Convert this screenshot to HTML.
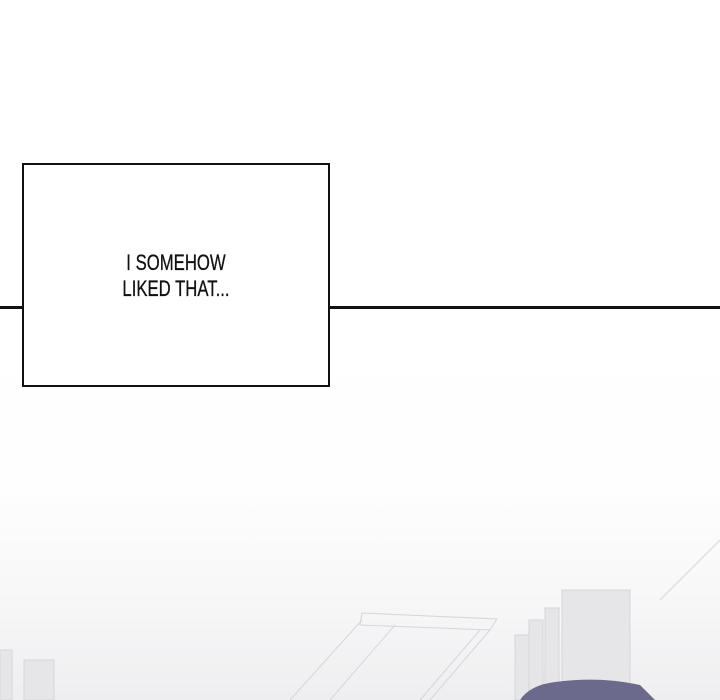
<!DOCTYPE html>
<html><head><style>
html,body{margin:0;padding:0;width:720px;height:700px;overflow:hidden;background:#fff;position:relative}
.grad{position:absolute;left:0;top:308px;width:720px;height:392px;background:linear-gradient(#fff 0%,#fefefe 45%,#f7f7f8 75%,#eeeef0 100%)}
.line{position:absolute;left:0;top:306px;width:720px;height:3px;background:#111}
.box{position:absolute;left:22px;top:163px;width:304px;height:220px;border:2px solid #111;background:#fff}
.txt{position:absolute;left:22px;width:308px;top:250px;text-align:center;font-family:"Liberation Sans",sans-serif;font-size:22px;line-height:26px;color:#111;transform:scaleX(0.76);transform-origin:154px 0;-webkit-text-stroke:0.3px #111}
</style></head><body>
<div class="grad"></div>
<svg style="position:absolute;left:0;top:0" width="720" height="700">
<g stroke="#d6d6da" fill="none" stroke-width="1">
<polygon points="362,613 497,619 490,630 360,625"/>
<line x1="362" y1="620" x2="290" y2="700"/><line x1="395" y1="625" x2="330" y2="700"/>
<line x1="480" y1="630" x2="420" y2="700"/><line x1="490" y1="630" x2="430" y2="700"/>
<line x1="720" y1="540" x2="660" y2="600"/>
</g>
<g fill="#e6e6e9" stroke="#d6d6da">
<rect x="515" y="635" width="14" height="65"/><rect x="529" y="620" width="14" height="80"/>
<rect x="545" y="608" width="14" height="92"/><rect x="562" y="590" width="68" height="110"/>
<rect x="0" y="650" width="12" height="50"/><rect x="24" y="660" width="30" height="40"/>
</g>
<path d="M520,700 Q530,685 555,682 Q600,676 640,685 L655,700 Z" fill="#6b6a8c"/>
</svg>
<div class="line"></div>
<div class="box"></div>
<div class="txt">I SOMEHOW<br>LIKED THAT...</div>
</body></html>
